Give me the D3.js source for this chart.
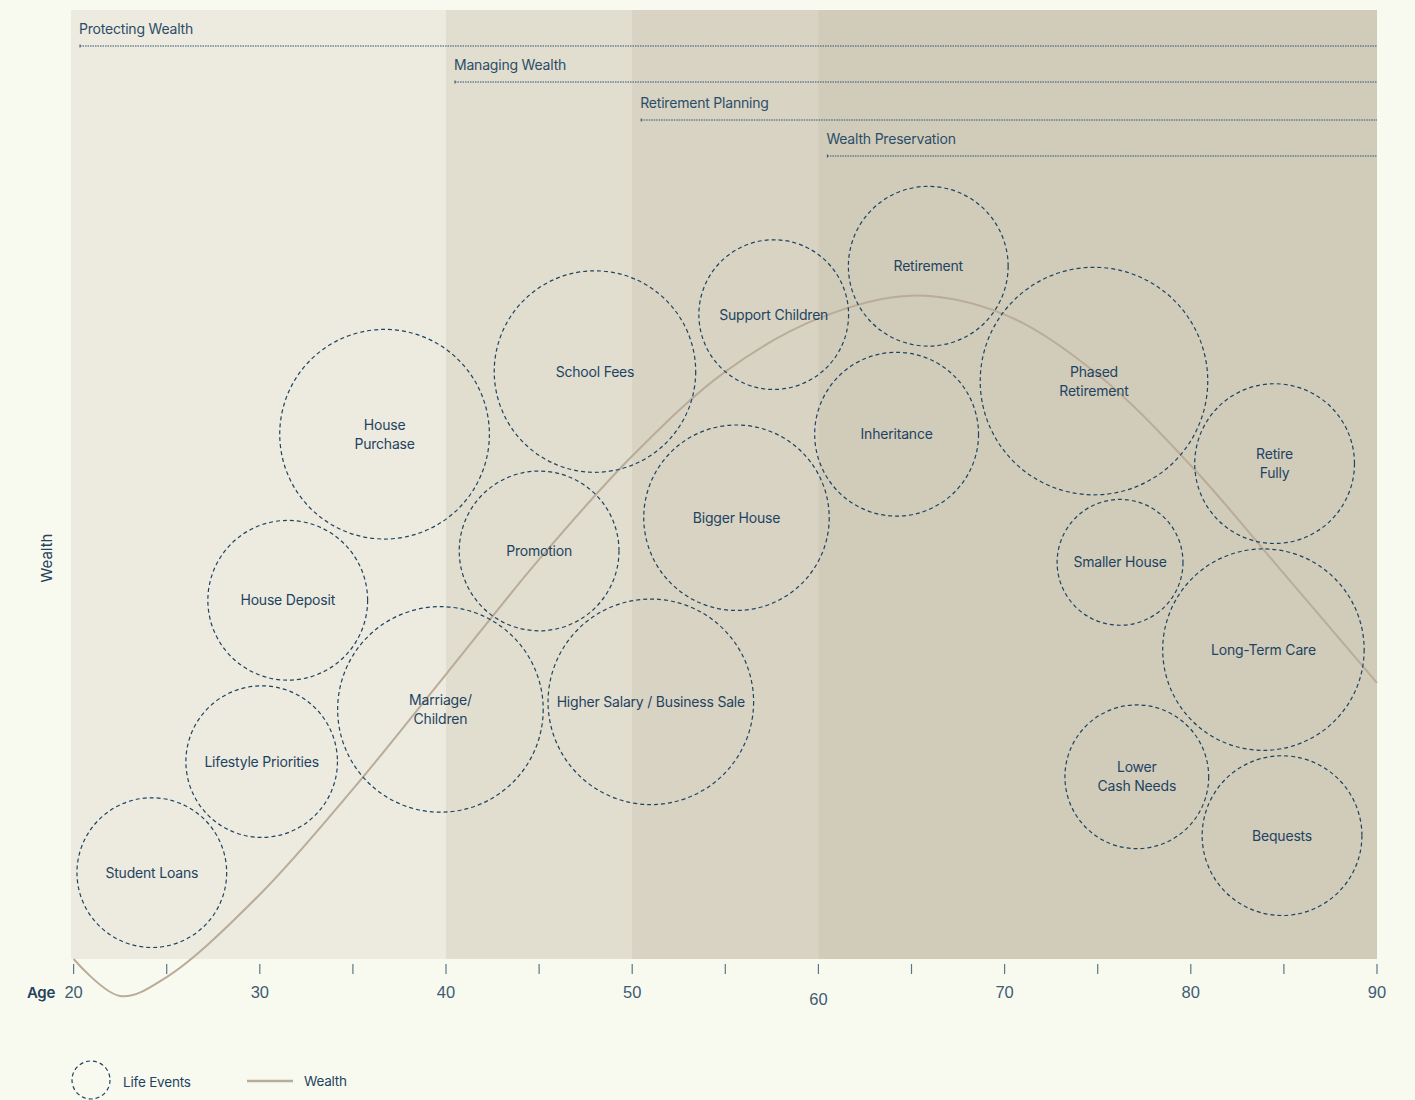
<!DOCTYPE html>
<html>
<head>
<meta charset="utf-8">
<script src="https://cdn.jsdelivr.net/npm/d3@7"></script>
<style>
  html, body { margin: 0; padding: 0; background: #f9faef; }
  svg { display: block; font-family: Inter, "Noto Sans", sans-serif; }
</style>
</head>
<body>
<svg id="chart" width="1415" height="1100"></svg>
<script>
// stages of planning (start age) – each runs to 90
const stageNames = ["Protecting Wealth", "Managing Wealth", "Retirement Planning", "Wealth Preservation"];
const stageStarts = [20, 40, 50, 60];

// life events: centre age, wealth level, radius (in years)
const eventNames = [
  "Student Loans", "Lifestyle Priorities", "House Deposit", "House\nPurchase", "Marriage/\nChildren",
  "Promotion", "School Fees", "Higher Salary / Business Sale", "Bigger House", "Support Children",
  "Retirement", "Inheritance", "Phased\nRetirement", "Retire\nFully", "Smaller House",
  "Long-Term Care", "Lower\nCash Needs", "Bequests"
];
const eventAges = [24.2, 30.1, 31.5, 36.7, 39.7, 45.0, 48.0, 51.0, 55.6, 57.6, 65.9, 64.2, 74.8, 84.5, 76.2, 83.9, 77.1, 84.9];
const eventLevels = [9.1, 20.8, 37.8, 55.3, 26.3, 43.0, 61.9, 27.1, 46.5, 67.9, 73.0, 55.3, 60.9, 52.2, 41.8, 32.6, 19.2, 13.0];
const eventSpans = [4.02, 4.07, 4.29, 5.63, 5.52, 4.29, 5.41, 5.52, 4.98, 4.02, 4.29, 4.40, 6.11, 4.29, 3.38, 5.41, 3.86, 4.29];

// wealth curve
const wealthAges = [20, 22.5, 25, 30, 35, 40, 45, 50, 55, 60, 65, 70, 75, 80, 85, 90];
const wealthValues = [0, -3.9, -1.9, 6.8, 17.9, 30.0, 42.1, 53.0, 61.9, 67.5, 69.9, 67.9, 61.6, 52.0, 40.6, 29.1];

const ageTicks = d3.range(20, 91, 5);

const margin = { left: 71, right: 38, top: 10, bottom: 141 };
const W = 1415, H = 1100;
const svg = d3.select("#chart");

const x = d3.scaleLinear().domain([19.86, 90]).range([margin.left, W - margin.right]);
const y = d3.scaleLinear().domain([0, 100]).range([H - margin.bottom, margin.top]);

const ink = "#1e4461";
const curveColor = "#b9ac98";

// stage bands
const bands = svg.append("g");
const bandFills = ["#edeadf", "#e1ddcf", "#d8d3c3", "#d1cbba"];
stageStarts.forEach((s, i) => {
  const x0 = i === 0 ? margin.left : x(s);
  bands.append("rect")
    .attr("x", x0).attr("y", y(100))
    .attr("width", x(90) - x0).attr("height", y(0) - y(100))
    .attr("fill", bandFills[i]);
});

// stage labels and dotted lines
const stageLineY = [46, 82, 120, 156];
const stageG = svg.append("g");
stageNames.forEach((name, i) => {
  const x0 = (i === 0 ? margin.left : x(stageStarts[i])) + 9;
  stageG.append("text")
    .attr("x", x0 - 1).attr("y", stageLineY[i] - 12)
    .attr("font-size", 14).attr("fill", "#2b4e68")
    .attr("letter-spacing", -0.2)
    .text(name);
  stageG.append("line")
    .attr("x1", x0).attr("x2", x(90))
    .attr("y1", stageLineY[i]).attr("y2", stageLineY[i])
    .attr("stroke", "#2d5270").attr("stroke-width", 1)
    .attr("stroke-dasharray", "1.5,1");
  stageG.append("line")
    .attr("x1", x0).attr("x2", x0)
    .attr("y1", stageLineY[i] - 1.5).attr("y2", stageLineY[i] + 1.5)
    .attr("stroke", "#2d5270").attr("stroke-width", 1);
});

// wealth curve
const wealthData = wealthAges.map((a, i) => ({ age: a, v: wealthValues[i] }));
const line = d3.line()
  .x(d => x(d.age)).y(d => y(d.v))
  .curve(d3.curveCatmullRom.alpha(0.5));
svg.append("path")
  .datum(wealthData)
  .attr("d", line)
  .attr("fill", "none")
  .attr("stroke", curveColor)
  .attr("stroke-width", 2);

// life event circles
const events = eventNames.map((n, i) => ({
  name: n, age: eventAges[i], level: eventLevels[i], span: eventSpans[i]
}));
const evG = svg.append("g").selectAll("g").data(events).join("g")
  .attr("transform", d => `translate(${x(d.age)},${y(d.level)})`);
evG.append("circle")
  .attr("r", d => x(20 + d.span) - x(20))
  .attr("fill", "none")
  .attr("stroke", ink)
  .attr("stroke-width", 1.2)
  .attr("stroke-dasharray", "4,3");
evG.each(function(d) {
  const lines = d.name.split("\n");
  const t = d3.select(this).append("text")
    .attr("text-anchor", "middle")
    .attr("font-size", 14).attr("fill", ink)
    .attr("letter-spacing", -0.2);
  lines.forEach((l, j) => {
    t.append("tspan")
      .attr("x", 0)
      .attr("y", (j - (lines.length - 1) / 2) * 19 + 5)
      .text(l);
  });
});

// x axis
const axisG = svg.append("g");
axisG.selectAll("line").data(ageTicks).join("line")
  .attr("x1", d => x(d)).attr("x2", d => x(d))
  .attr("y1", 964).attr("y2", 974)
  .attr("stroke", "#5b7688").attr("stroke-width", 1.2);
axisG.selectAll("text").data(ageTicks.filter(d => d % 10 === 0)).join("text")
  .attr("x", d => x(d)).attr("y", d => d === 60 ? 1005 : 998)
  .attr("text-anchor", "middle")
  .attr("font-family", "'Liberation Sans', Arial, sans-serif")
  .attr("font-size", 16.5).attr("fill", "#3e5d74")
  .text(d => d);
svg.append("text")
  .attr("x", 41).attr("y", 998)
  .attr("text-anchor", "middle")
  .attr("font-size", 15).attr("font-weight", 600).attr("fill", "#23425c")
  .attr("letter-spacing", -0.3)
  .text("Age");

// y axis label
svg.append("text")
  .attr("transform", "translate(52,558) rotate(-90)")
  .attr("text-anchor", "middle")
  .attr("font-size", 15).attr("fill", "#23425c")
  .text("Wealth");

// legend
const leg = svg.append("g");
leg.append("circle")
  .attr("cx", 91).attr("cy", 1080).attr("r", 19)
  .attr("fill", "none").attr("stroke", ink)
  .attr("stroke-width", 1.2).attr("stroke-dasharray", "4,3");
leg.append("text")
  .attr("x", 123).attr("y", 1087)
  .attr("font-size", 13.5).attr("fill", ink).attr("letter-spacing", -0.2)
  .text("Life Events");
leg.append("line")
  .attr("x1", 247).attr("x2", 293).attr("y1", 1081).attr("y2", 1081)
  .attr("stroke", curveColor).attr("stroke-width", 2.5);
leg.append("text")
  .attr("x", 304).attr("y", 1086)
  .attr("font-size", 13.5).attr("fill", ink).attr("letter-spacing", -0.2)
  .text("Wealth");
</script>
</body>
</html>
